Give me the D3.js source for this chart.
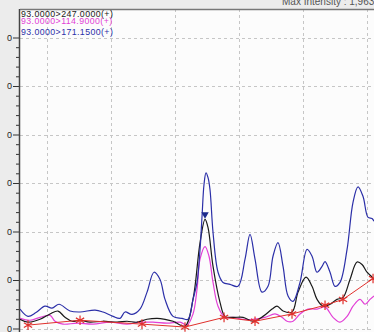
<!DOCTYPE html>
<html>
<head>
<meta charset="utf-8">
<script src="https://cdn.jsdelivr.net/npm/d3@7"></script>
<style>
  html, body { margin: 0; padding: 0; background: #ededed; }
  svg { display: block; }
</style>
</head>
<body>
<svg id="chart" width="374" height="332"></svg>
<script>
// Chromatogram traces: [retention time (min), intensity]
const traceLabels = ["93.0000>247.0000(+)", "93.0000>114.9000(+)", "93.0000>171.1500(+)"];
const traceColors = ["#1a1a1a", "#e23fd6", "#2b2fa8"];

const blueTrace = [
  [0.578,0.40],[0.703,0.25],[0.828,0.33],[0.969,0.46],[1.078,0.42],[1.188,0.50],[1.359,0.36],
  [1.516,0.34],[1.750,0.38],[1.875,0.34],[2.031,0.25],[2.141,0.21],[2.219,0.34],[2.328,0.29],
  [2.453,0.40],[2.563,0.75],[2.672,1.16],[2.766,1.01],[2.844,0.60],[2.969,0.25],[3.109,0.21],
  [3.203,0.19],[3.281,0.60],[3.344,0.95],[3.391,1.63],[3.422,2.31],[3.453,2.97],[3.484,3.21],
  [3.516,3.11],[3.547,2.86],[3.594,1.98],[3.672,1.16],[3.750,0.95],[3.859,0.91],[3.984,0.87],
  [4.094,1.43],[4.172,1.94],[4.250,1.43],[4.359,0.75],[4.453,0.87],[4.531,1.49],[4.609,1.77],
  [4.688,1.28],[4.766,0.67],[4.844,0.56],[4.953,0.95],[5.063,1.63],[5.141,1.49],[5.219,1.16],
  [5.297,1.28],[5.344,1.38],[5.422,1.16],[5.500,0.87],[5.578,0.95],[5.688,1.63],[5.781,2.60],
  [5.859,2.92],[5.938,2.72],[6.016,2.29],[6.078,2.27],[6.109,2.21]
];

const blackTrace = [
  [0.578,0.19],[0.703,0.13],[0.891,0.19],[1.047,0.30],[1.172,0.36],[1.281,0.23],[1.391,0.15],
  [1.516,0.17],[1.672,0.13],[1.875,0.15],[2.094,0.13],[2.250,0.15],[2.406,0.13],[2.563,0.19],
  [2.719,0.21],[2.844,0.19],[2.969,0.15],[3.156,0.05],[3.281,0.60],[3.391,1.77],[3.469,2.25],
  [3.516,2.08],[3.594,1.28],[3.703,0.54],[3.781,0.25],[3.906,0.23],[4.063,0.23],[4.219,0.15],
  [4.375,0.25],[4.516,0.40],[4.594,0.46],[4.688,0.36],[4.828,0.34],[4.922,0.75],[5.047,1.06],
  [5.141,0.87],[5.219,0.60],[5.313,0.46],[5.422,0.50],[5.531,0.60],[5.625,0.64],[5.734,1.01],
  [5.844,1.37],[5.922,1.32],[6.000,1.16],[6.078,1.06],[6.109,1.01]
];

const magentaTrace = [
  [0.578,0.21],[0.734,0.17],[0.891,0.23],[1.047,0.27],[1.125,0.15],[1.250,0.09],[1.469,0.11],
  [1.719,0.09],[1.984,0.13],[2.250,0.09],[2.453,0.13],[2.656,0.13],[2.875,0.11],[3.078,0.13],
  [3.188,0.07],[3.281,0.30],[3.344,0.81],[3.391,1.43],[3.469,1.69],[3.531,1.49],[3.594,0.95],
  [3.672,0.46],[3.781,0.23],[3.906,0.23],[4.063,0.19],[4.219,0.19],[4.406,0.23],[4.563,0.30],
  [4.672,0.23],[4.750,0.15],[4.844,0.15],[4.953,0.30],[5.078,0.40],[5.219,0.40],[5.344,0.44],
  [5.469,0.23],[5.578,0.13],[5.688,0.25],[5.781,0.46],[5.891,0.60],[5.969,0.50],[6.047,0.60],
  [6.109,0.67]
];

// Integration baseline points (peak start / end)
const baselinePoints = [
  [0.703,0.07],[1.516,0.17],[2.484,0.09],[3.156,0.03],[3.766,0.23],[4.250,0.15],
  [4.828,0.30],[5.344,0.48],[5.625,0.60],[6.094,1.03]
];

// Apex marker of the selected peak
const apexMarker = [3.469, 2.25];

const yTickValues = [0, 1, 2, 3, 4, 5, 6];
const yTickLabels = ["0", "0", "0", "0", "0", "0", "0"];
const xGridValues = [1, 2, 3, 4, 5, 6];
const headerText = "Max Intensity : 1,963,204";

const svg = d3.select("#chart");
const W = 374, H = 332;
const plot = { left: 20, top: 9, right: 374, bottom: 332 };

const x = d3.scaleLinear().domain([0.578, 6.109]).range([plot.left, plot.right]);
const y = d3.scaleLinear().domain([0, 6]).range([328.5, 37.5]);

// Background panels
svg.append("rect").attr("x", 0).attr("y", 0).attr("width", W).attr("height", H).attr("fill", "#ececec");
svg.append("rect").attr("x", plot.left).attr("y", plot.top)
  .attr("width", plot.right - plot.left).attr("height", plot.bottom - plot.top).attr("fill", "#fcfcfc");

// Header, partly cut off at the top edge
svg.append("text").attr("x", 282).attr("y", 5)
  .attr("font-family", "Liberation Sans, Arial, sans-serif").attr("font-size", 10)
  .attr("fill", "#555").text(headerText);

svg.append("clipPath").attr("id", "plotclip").append("rect")
  .attr("x", plot.left).attr("y", plot.top).attr("width", plot.right - plot.left).attr("height", plot.bottom - plot.top);

// Grid
const grid = svg.append("g").attr("clip-path", "url(#plotclip)");
grid.selectAll("line.h").data(yTickValues).join("line")
  .attr("x1", plot.left).attr("x2", plot.right)
  .attr("y1", d => Math.round(y(d)) + 0.5).attr("y2", d => Math.round(y(d)) + 0.5)
  .attr("stroke", "#c6c6c6").attr("stroke-dasharray", "3,3");
grid.selectAll("line.v").data(xGridValues).join("line")
  .attr("y1", plot.top).attr("y2", plot.bottom)
  .attr("x1", d => Math.round(x(d)) + 0.5).attr("x2", d => Math.round(x(d)) + 0.5)
  .attr("stroke", "#c6c6c6").attr("stroke-dasharray", "3,3");

// Y axis with major and minor ticks
const minorVals = d3.range(-0.2, 6.01, 0.2).filter(v => Math.abs(v - Math.round(v)) > 1e-6);
const axisG = svg.append("g").attr("transform", `translate(${plot.left},0)`);
axisG.call(d3.axisLeft(y).tickValues(minorVals).tickSize(4).tickFormat(""))
  .call(g => g.select(".domain").remove())
  .call(g => g.selectAll("line").attr("stroke", "#333"));
const yAxis = d3.axisLeft(y).tickValues(yTickValues).tickSize(7).tickPadding(1)
  .tickFormat((d, i) => yTickLabels[i]);
const majorG = svg.append("g").attr("transform", `translate(${plot.left},0)`).call(yAxis);
majorG.select(".domain").remove();
majorG.selectAll("line").attr("stroke", "#333");
majorG.selectAll("text").attr("font-family", "Liberation Sans, Arial, sans-serif")
  .attr("font-size", 9).attr("fill", "#222");

// Frame lines
svg.append("line").attr("x1", plot.left - 0.5).attr("x2", plot.left - 0.5)
  .attr("y1", plot.top).attr("y2", H).attr("stroke", "#444").attr("stroke-width", 1.5);
svg.append("line").attr("x1", plot.left).attr("x2", W)
  .attr("y1", plot.top + 0.5).attr("y2", plot.top + 0.5).attr("stroke", "#777").attr("stroke-width", 1.5);

// Traces
const line = d3.line().x(d => x(d[0])).y(d => y(d[1])).curve(d3.curveCatmullRom.alpha(0.5));
const traces = svg.append("g").attr("clip-path", "url(#plotclip)");
[[magentaTrace, traceColors[1]], [blackTrace, traceColors[0]], [blueTrace, traceColors[2]]]
  .forEach(([data, color]) => {
    traces.append("path").datum(data).attr("d", line)
      .attr("fill", "none").attr("stroke", color).attr("stroke-width", 1.2);
  });

// Baseline with asterisk markers
const baseLine = d3.line().x(d => x(d[0])).y(d => y(d[1]));
traces.append("path").datum(baselinePoints).attr("d", baseLine)
  .attr("fill", "none").attr("stroke", "#e0302c").attr("stroke-width", 1);
traces.selectAll("path.star").data(baselinePoints).join("path")
  .attr("transform", d => `translate(${x(d[0])},${y(d[1])})`)
  .attr("d", d3.symbol(d3.symbolAsterisk, 64))
  .attr("fill", "none").attr("stroke", "#e0302c").attr("stroke-width", 1.2);

// Apex marker (downward triangle)
traces.append("path")
  .attr("transform", `translate(${x(apexMarker[0])},${y(apexMarker[1]) - 5}) rotate(180)`)
  .attr("d", d3.symbol(d3.symbolTriangle, 24))
  .attr("fill", "#1c2a8c");

// Trace labels, stacked tightly under the top frame
const legend = svg.append("g");
const legendY = [16.5, 24, 35];
traceLabels.forEach((t, i) => {
  legend.append("text").attr("x", 21).attr("y", legendY[i])
    .attr("font-family", "Liberation Sans, Arial, sans-serif").attr("font-size", 8.8)
    .attr("letter-spacing", 0.4)
    .attr("fill", traceColors[i]).text(t);
});
</script>
</body>
</html>
